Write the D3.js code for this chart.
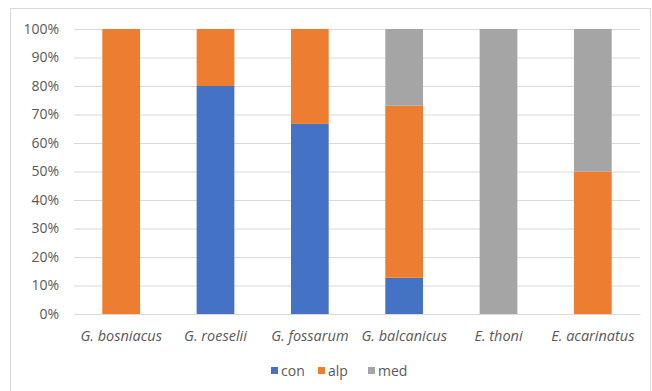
<!DOCTYPE html>
<html>
<head>
<meta charset="utf-8">
<script src="https://cdn.jsdelivr.net/npm/d3@7"></script>
<style>
  html, body { margin: 0; padding: 0; background: #fff; }
  svg text { font-family: "Open Sans", "Liberation Sans", sans-serif; }
</style>
</head>
<body>
<svg id="chart" width="652" height="391"></svg>
<script>
// Species shown along the x axis
const species = ["G. bosniacus", "G. roeselii", "G. fossarum", "G. balcanicus", "E. thoni", "E. acarinatus"];
// Share (%) of each lineage group per species
const con = [0, 80, 66.7, 12.7, 0, 0];
const alp = [100, 20, 33.3, 60.4, 0, 50];
const med = [0, 0, 0, 26.9, 100, 50];
const seriesNames = ["con", "alp", "med"];
const seriesColors = ["#4472c4", "#ed7d31", "#a5a5a5"];
const yTicks = [0, 10, 20, 30, 40, 50, 60, 70, 80, 90, 100];

const rows = species.map((s, i) => ({ species: s, con: con[i], alp: alp[i], med: med[i] }));

const svg = d3.select("#chart");
const W = 652, H = 391;
const margin = { left: 74, right: 12, top: 29, bottom: 77 };
const plotW = W - margin.left - margin.right;
const plotH = H - margin.top - margin.bottom;

// Chart frame
svg.append("rect")
  .attr("x", 10.5).attr("y", 8.5)
  .attr("width", 640).attr("height", 390)
  .attr("fill", "#fff").attr("stroke", "#d9d9d9").attr("stroke-width", 1);

const g = svg.append("g").attr("transform", `translate(${margin.left},${margin.top})`);

const x = d3.scaleBand().domain(species).range([0, plotW]).paddingInner(0.6).paddingOuter(0.3);
const y = d3.scaleLinear().domain([0, 100]).range([plotH, 0]);

// Horizontal gridlines
const yAxis = d3.axisLeft(y).tickValues(yTicks).tickSize(-plotW).tickFormat(d => d + "%").tickPadding(15);
const ya = g.append("g").call(yAxis);
ya.select(".domain").remove();
ya.selectAll(".tick line").attr("stroke", "#d9d9d9").attr("stroke-width", 1);
ya.selectAll(".tick text").attr("fill", "#595959").attr("font-size", "14px");

// Stacked bars
const stack = d3.stack().keys(seriesNames);
const layers = stack(rows);
const color = d3.scaleOrdinal().domain(seriesNames).range(seriesColors);

g.selectAll("g.layer").data(layers).join("g")
  .attr("class", "layer")
  .attr("fill", d => color(d.key))
  .selectAll("rect").data(d => d).join("rect")
  .attr("x", d => x(d.data.species))
  .attr("width", x.bandwidth())
  .attr("y", d => y(d[1]))
  .attr("height", d => y(d[0]) - y(d[1]));

// Category axis
const xAxis = d3.axisBottom(x).tickSize(0).tickPadding(17);
const xa = g.append("g").attr("transform", `translate(0,${plotH})`).call(xAxis);
xa.select(".domain").attr("stroke", "#d9d9d9");
xa.selectAll(".tick text").attr("fill", "#595959").attr("font-size", "14.5px").attr("font-style", "italic");

// Legend
const legendX = [271, 318, 368];
const legend = svg.append("g");
seriesNames.forEach((name, i) => {
  legend.append("rect")
    .attr("x", legendX[i]).attr("y", 367)
    .attr("width", 7).attr("height", 7)
    .attr("fill", seriesColors[i]);
  legend.append("text")
    .attr("x", legendX[i] + 10).attr("y", 376)
    .attr("fill", "#595959").attr("font-size", "14px")
    .text(name);
});
</script>
</body>
</html>
